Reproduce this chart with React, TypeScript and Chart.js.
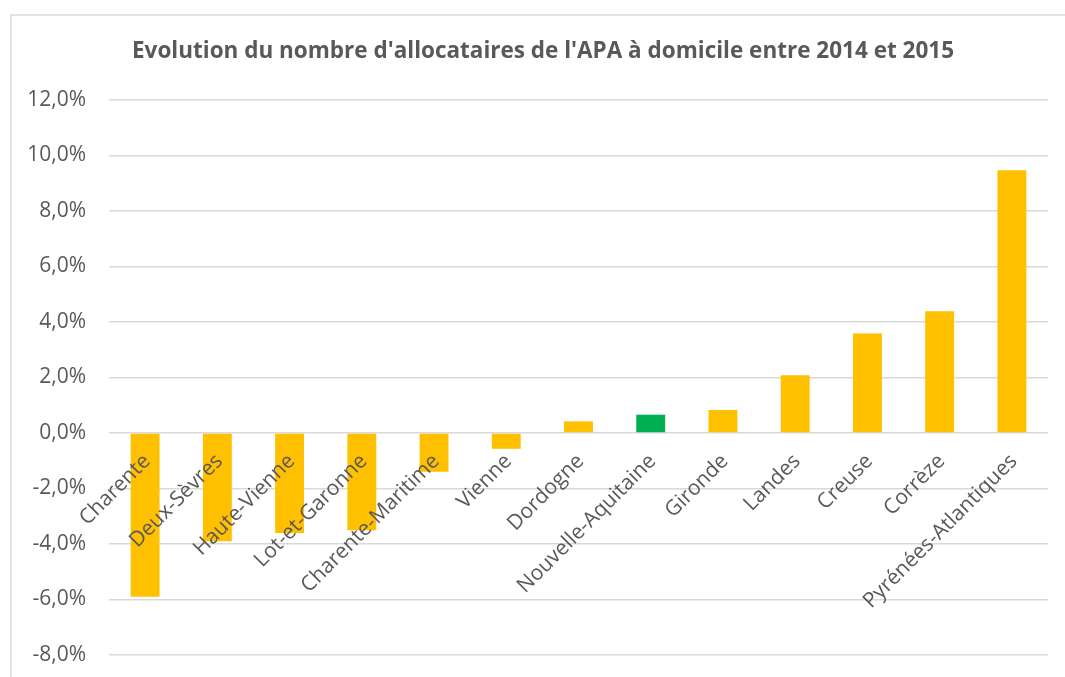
import { useEffect, useRef } from "react";
import { Chart, registerables } from "chart.js";

Chart.register(...registerables);

const titleText = "Evolution du nombre d'allocataires de l'APA à domicile entre 2014 et 2015";
const categories = [
  "Charente",
  "Deux-Sèvres",
  "Haute-Vienne",
  "Lot-et-Garonne",
  "Charente-Maritime",
  "Vienne",
  "Dordogne",
  "Nouvelle-Aquitaine",
  "Gironde",
  "Landes",
  "Creuse",
  "Corrèze",
  "Pyrénées-Atlantiques",
];
const values = [-5.9, -3.9, -3.6, -3.5, -1.4, -0.57, 0.42, 0.66, 0.83, 2.08, 3.59, 4.39, 9.47];
const highlightCategory = "Nouvelle-Aquitaine";
const yMin = -8;
const yMax = 12;
const yStep = 2;

const BAR_COLOR = "#FFC000";
const HIGHLIGHT_COLOR = "#00B050";
const TEXT_COLOR = "#595959";
const GRID_COLOR = "#D9D9D9";
const FONT = "'Open Sans', 'Noto Sans', sans-serif";

// Let the y tick labels extend left of the (narrow) y-axis box without being clipped.
const unclipYLabels = {
  id: "unclipYLabels",
  afterLayout(chart: any) {
    const y = chart.scales.y;
    if (y) y.left = 0;
  },
};

export default function App() {
  const canvasRef = useRef<HTMLCanvasElement | null>(null);

  useEffect(() => {
    const canvas = canvasRef.current;
    if (!canvas) return;
    const chart = new Chart(canvas, {
      type: "bar",
      data: {
        labels: categories,
        datasets: [
          {
            data: values,
            backgroundColor: categories.map((c) => (c === highlightCategory ? HIGHLIGHT_COLOR : BAR_COLOR)),
            borderWidth: 0,
            categoryPercentage: 1,
            barPercentage: 0.4,
          },
        ],
      },
      options: {
        animation: false,
        responsive: false,
        maintainAspectRatio: false,
        layout: { padding: { left: 38, right: 17, top: 0, bottom: 22 } },
        plugins: {
          legend: { display: false },
          tooltip: { enabled: false },
          title: {
            display: true,
            text: titleText,
            color: TEXT_COLOR,
            font: { family: FONT, size: 22.5, weight: "bold", lineHeight: 1.2 },
            padding: { top: 38.5, bottom: 34.5 },
          },
        },
        scales: {
          x: {
            position: { y: 0 } as any,
            grid: { display: false },
            border: { display: false },
            ticks: {
              z: 1,
              autoSkip: false,
              minRotation: 45,
              maxRotation: 45,
              color: TEXT_COLOR,
              font: { family: FONT, size: 21 },
              padding: 8,
              labelOffset: 2,
            },
          },
          y: {
            min: yMin,
            max: yMax,
            afterFit: (scale: any) => {
              scale.width = 71;
            },
            grid: {
              color: GRID_COLOR,
              lineWidth: 1.5,
              drawTicks: true,
              tickLength: 23,
              tickColor: "rgba(0,0,0,0)",
            },
            border: { display: false },
            ticks: {
              stepSize: yStep,
              color: TEXT_COLOR,
              font: { family: FONT, size: 21 },
              padding: 0,
              callback: (v: any) => Number(v).toFixed(1).replace(".", ",") + "%",
            },
          },
        },
      },
      plugins: [unclipYLabels],
    });
    return () => chart.destroy();
  }, []);

  return (
    <div
      style={{
        position: "absolute",
        left: 0,
        top: 0,
        width: 1065,
        height: 677,
        overflow: "hidden",
        background: "#fff",
      }}
    >
      <div
        style={{
          position: "absolute",
          left: 10,
          top: 14,
          width: 1100,
          height: 720,
          border: "2px solid #E3E3E3",
          boxSizing: "border-box",
        }}
      />
      <canvas ref={canvasRef} width={1065} height={677} style={{ position: "absolute", left: 0, top: 0 }} />
    </div>
  );
}
